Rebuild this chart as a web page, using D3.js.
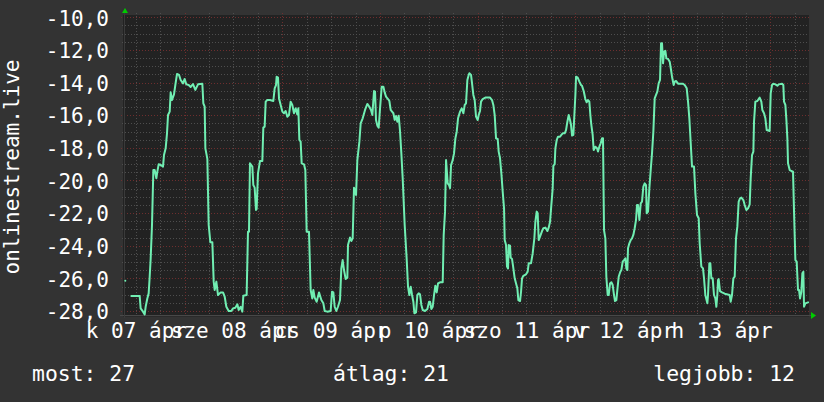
<!DOCTYPE html>
<html><head><meta charset="utf-8">
<script src="https://cdn.jsdelivr.net/npm/d3@7"></script>
<style>
html,body{margin:0;padding:0;background:#333333;}
svg{display:block;}
text{font-family:"DejaVu Sans Mono",monospace;fill:#ffffff;}
</style>
</head><body>
<svg id="chart" width="824" height="402"></svg>
<script>
// ---- data ----
const startTime = new Date(2020, 3, 7, 8, 50);
const spanHours = 168.67;
const yTickValues = [-28, -26, -24, -22, -20, -18, -16, -14, -12, -10];
const yTickLabels = ["-28,0", "-26,0", "-24,0", "-22,0", "-20,0", "-18,0", "-16,0", "-14,0", "-12,0", "-10,0"];
const dayLabels = ["k 07 ápr", "sze 08 ápr", "cs 09 ápr", "p 10 ápr", "szo 11 ápr", "v 12 ápr", "h 13 ápr"];
const dayLabelDates = ["2020-04-07", "2020-04-08", "2020-04-09", "2020-04-10", "2020-04-11", "2020-04-12", "2020-04-13"];
const axisTitle = "onlinestream.live";
const legendLabels = ["most: 27", "átlag: 21", "legjobb: 12"];
// hours since startTime
const hours = [0.57, 1.30, 2.05, 4.10, 4.34, 4.92, 5.33, 5.57, 5.98, 6.31, 6.56, 6.80, 7.13, 7.46, 7.79, 8.20, 8.44, 8.77, 9.26, 9.84, 10.08, 10.49, 10.82, 11.07, 11.48, 11.72, 12.05, 12.54, 12.87, 13.28, 13.77, 14.18, 14.75, 15.16, 15.57, 16.15, 16.64, 17.21, 17.79, 18.44, 19.51, 19.75, 20.08, 20.25, 20.74, 21.07, 21.48, 21.97, 22.30, 22.54, 22.95, 23.36, 24.02, 24.59, 25.00, 25.41, 25.98, 26.64, 27.05, 27.62, 28.12, 28.44,
28.93, 29.34, 29.59, 30.40, 30.73, 30.98, 31.22, 31.80, 32.04, 32.37, 32.70, 32.86, 33.19, 33.68, 34.26, 34.50, 34.83, 35.08, 35.49, 36.14, 36.96, 37.29, 37.62, 37.78, 38.11, 38.36, 38.77, 39.18, 39.59, 40.00, 40.40, 40.81, 41.22, 41.63, 42.04, 42.45, 42.86, 43.11, 43.36, 43.68, 43.93, 44.50, 44.83, 45.16, 45.73, 46.14, 46.55, 46.80, 47.13, 47.62, 48.19, 48.77, 49.26, 49.59, 50.24, 51.06, 51.39, 51.72, 52.04, 52.45, 52.86, 53.36, 53.68, 54.01, 54.34, 54.75, 55.16, 55.32, 55.82, 56.14, 56.47, 56.80,
57.30, 57.62, 58.12, 58.44, 58.93, 59.51, 60.08, 60.57, 60.98, 61.31, 61.72, 61.97, 62.21, 62.54, 62.87, 63.20, 63.61, 64.02, 64.34, 64.67, 65.16, 65.49, 65.82, 66.15, 66.48, 66.80, 67.13, 67.46, 67.79, 68.11, 68.44, 68.77, 69.26, 69.75, 70.08, 70.41, 70.74, 71.07, 71.39, 71.64, 72.05, 72.38, 72.71, 73.03, 73.36, 73.69, 74.26, 74.84, 75.25, 75.49, 75.82, 76.15, 76.48, 76.80, 77.13, 77.46, 77.95, 78.61, 78.85, 79.18, 79.43, 79.84, 80.16, 80.41, 80.66, 81.07, 81.39, 81.72, 82.05, 82.38, 82.87, 83.28, 83.69, 84.02, 84.34, 84.67, 85.00, 85.16,
85.57, 85.82, 86.14, 86.47, 86.80, 87.21, 87.46, 87.78, 88.03, 88.44, 89.09, 90.24, 90.73, 91.06, 91.39, 91.72, 92.13, 92.37, 92.70, 93.03, 93.36, 93.69, 93.85, 94.18, 94.42, 94.67, 94.83, 95.16, 95.32, 95.65, 95.98, 96.31, 96.64, 96.96, 97.21, 97.62, 97.87, 98.11, 98.44, 99.09, 99.50, 99.75, 100.32, 100.73, 101.14, 101.39, 101.72, 101.96, 102.21, 102.54, 103.03, 103.36, 103.85, 104.34, 104.67, 105.00, 105.32, 105.65, 105.82, 106.14, 106.31, 106.64, 106.96, 107.45, 107.78, 108.11, 108.60, 108.93, 109.26, 109.59, 109.91, 110.16, 110.41, 110.73, 110.98, 111.23, 111.39, 111.80, 112.21, 112.62, 112.86,
113.27, 113.68, 114.01, 114.34, 114.66, 114.91, 115.15, 115.48, 115.73, 116.14, 116.55, 116.79, 117.12, 117.45, 117.78, 118.02, 118.27, 118.60, 118.84, 119.17, 119.42, 119.75, 120.07, 120.40, 120.73, 120.97, 121.30, 121.55, 121.88, 122.29, 122.53, 122.86, 123.19, 123.52, 123.76, 124.01, 124.17, 124.50, 124.83, 125.15, 125.48, 125.81, 126.14, 126.38, 126.63, 126.96, 127.29, 127.61, 127.94, 128.27, 128.60, 128.76, 129.09, 129.42, 129.75, 130.07, 130.40, 130.73, 131.06, 131.38, 131.71, 132.04, 132.29, 132.53, 132.78, 133.02, 133.35, 133.60, 134.01, 134.42, 134.75, 134.99, 135.40, 135.65, 135.97, 136.47, 137.61, 138.11, 138.60, 138.93, 139.25, 139.50, 139.91, 140.40, 140.73, 141.14, 141.55,
141.79, 142.20, 142.61, 142.86, 143.18, 143.68, 143.84, 144.17, 144.41, 144.66, 144.99, 145.31, 145.64, 145.89, 146.13, 146.30, 146.46, 146.79, 147.28, 147.94, 149.17, 149.41, 149.74, 150.07, 150.40, 150.72, 151.05, 151.38, 151.71, 152.04, 152.53, 152.86, 153.27, 153.68, 154.09, 154.33, 154.66, 154.99, 155.15, 155.48, 155.97, 156.54, 156.95, 157.20, 157.61, 157.94, 158.27, 159.00, 159.25, 159.58, 159.90, 160.40, 160.89, 161.22, 162.04, 162.36, 162.53, 162.86, 163.11, 163.35, 163.51, 163.92, 164.33, 164.74, 164.99, 165.32, 165.64, 165.97, 166.22, 166.46, 166.79, 167.04, 167.28, 167.45, 167.78, 168.43];
const values = [-26.14, null, -27.08, -27.08, -27.84, -28.04, -28.21, -27.74, -27.23, -26.92, -25.90, -24.81, -22.73, -19.36, -19.36, -19.87, -19.46, -19.01, -19.05, -19.15, -18.44, -18.03, -17.11, -15.99, -15.78, -14.60, -15.07, -14.72, -14.15, -13.47, -13.53, -13.84, -14.05, -13.78, -14.11, -14.15, -14.27, -14.09, -14.45, -14.11, -14.07, -15.27, -15.48, -18.03, -18.68, -22.73, -23.79, -23.79, -26.20, -26.71, -26.20, -27.02, -26.86, -26.86, -27.12, -27.74, -28.00, -28.00, -27.84, -27.80, -27.59, -27.94,
-27.74, -28.04, -27.06, -27.02, -23.14, -23.14, -18.95, -19.15, -20.28, -20.44, -21.81, -21.75, -19.56, -18.81, -18.81, -16.76, -16.70, -15.17, -15.07, -15.07, -15.13, -14.35, -14.15, -13.64, -13.70, -14.97, -15.37, -15.78, -15.88, -15.74, -16.09, -15.99, -15.17, -15.37, -15.88, -15.58, -15.95, -15.58, -17.52, -17.62, -18.95, -19.01, -19.36, -23.14, -23.14, -26.71, -27.23, -26.71, -27.18, -27.43, -26.86, -27.33, -27.53, -28.00, -28.04, -28.00, -26.82, -26.86, -27.74, -28.00, -27.74, -27.33, -25.39, -24.88, -25.49, -26.04, -25.96, -23.96, -23.50, -23.71, -23.55, -20.44,
-20.89, -18.75, -17.62, -16.50, -16.19, -15.68, -15.31, -15.48, -15.68, -15.99, -14.52, -14.56, -16.29, -16.64, -16.76, -15.58, -14.25, -14.25, -14.60, -14.86, -15.01, -15.13, -15.68, -15.78, -15.88, -16.29, -16.05, -16.40, -16.03, -16.97, -18.34, -19.87, -22.73, -24.81, -26.51, -27.02, -26.51, -27.02, -27.43, -28.14, -28.08, -27.02, -26.92, -26.98, -27.63, -27.94, -28.00, -27.88, -27.43, -27.43, -27.88, -27.74, -27.02, -26.45, -26.86, -26.31, -26.24, -26.24, -23.34, -21.91, -18.75, -20.18, -20.28, -20.48, -19.05, -18.75, -18.34, -17.42, -17.01, -16.19, -15.78, -15.58, -15.88, -15.37, -15.27, -13.84, -13.53, -13.43,
-13.53, -14.05, -14.76, -15.07, -16.09, -16.29, -15.99, -15.74, -15.17, -15.01, -14.92, -14.92, -15.07, -15.37, -15.99, -17.42, -17.46, -18.23, -18.64, -19.56, -20.69, -21.71, -23.65, -23.96, -25.28, -25.39, -23.96, -24.00, -24.73, -24.81, -25.39, -26.00, -26.31, -26.61, -27.33, -27.39, -26.82, -26.00, -25.84, -25.75, -25.59, -25.08, -25.08, -24.47, -23.55, -22.53, -21.91, -22.01, -23.65, -23.44, -23.10, -22.93, -22.89, -23.10, -22.89, -22.53, -21.50, -20.48, -19.09, -19.01, -18.03, -17.52, -17.32, -17.32, -17.21, -17.11, -17.11, -16.91, -16.40, -15.99, -16.29, -16.60, -17.25, -17.21, -15.99, -14.76, -13.64, -13.70, -13.94, -14.15, -14.20,
-14.52, -15.01, -15.21, -15.07, -15.17, -15.99, -16.60, -17.21, -18.13, -17.93, -18.03, -18.23, -17.93, -17.72, -17.42, -17.42, -23.04, -23.55, -25.90, -27.02, -27.02, -26.31, -26.24, -26.41, -27.02, -27.39, -27.33, -26.71, -25.90, -25.59, -25.49, -24.98, -24.88, -24.77, -25.39, -25.49, -24.16, -23.85, -23.65, -23.55, -23.34, -22.93, -22.42, -21.50, -21.50, -22.42, -21.40, -21.30, -20.38, -20.18, -20.28, -22.01, -21.91, -20.48, -19.36, -18.34, -17.01, -14.97, -14.76, -14.56, -14.05, -13.84, -11.59, -11.59, -12.82, -12.10, -12.06, -12.51, -12.55, -12.72, -13.23, -13.64, -14.15, -13.94, -13.90, -14.07, -14.07, -14.15, -14.35, -15.17, -16.19, -17.32, -19.15, -19.15, -20.79, -22.12, -22.32,
-23.85, -25.28, -25.39, -26.00, -27.02, -27.53, -27.02, -25.08, -25.08, -26.00, -26.00, -27.02, -27.23, -27.74, -27.02, -26.10, -26.04, -26.78, -26.86, -26.94, -27.02, -27.43, -27.02, -26.00, -25.90, -23.55, -22.83, -21.30, -21.10, -21.05, -21.20, -21.50, -21.81, -21.71, -21.46, -19.87, -18.44, -18.23, -16.40, -15.17, -15.13, -14.92, -15.17, -15.68, -15.88, -16.19, -16.91, -16.97, -14.66, -14.15, -14.07, -14.11, -14.19, -14.11, -14.07, -14.15, -15.17, -15.37, -16.29, -17.42, -18.95, -19.36, -19.42, -19.46, -21.91, -24.88, -24.98, -26.71, -26.71, -27.23, -26.82, -25.69, -25.59, -27.74, -27.53, -27.47];

// ---- layout ----
const plot = {left: 123, right: 809, top: 15, bottom: 316.5};
const yTop = 17.3, yBottom = 311;
const svg = d3.select("#chart");
const endTime = new Date(startTime.getTime() + spanHours * 3600e3);
const x = d3.scaleTime().domain([startTime, endTime]).range([plot.left, plot.right]);
const y = d3.scaleLinear().domain([-28, -10]).range([yBottom, yTop]);
const toDate = h => new Date(startTime.getTime() + h * 3600e3);

svg.append("rect").attr("width", 824).attr("height", 402).attr("fill", "#333333");
svg.append("rect").attr("x", plot.left).attr("y", plot.top)
  .attr("width", plot.right - plot.left).attr("height", plot.bottom - plot.top)
  .attr("fill", "#222222");

// grid
const minorColor = "#4e4e4e", majorColor = "#6e2e2e";
const g = svg.append("g");
const minorH = d3.range(-28, -9.99, 0.5).filter(v => Math.abs(v % 2) > 0.01);
const majorH = yTickValues;
g.selectAll(".mh").data(minorH).join("line")
  .attr("x1", plot.left - 1).attr("x2", plot.right)
  .attr("y1", d => Math.round(y(d)) + 0.5).attr("y2", d => Math.round(y(d)) + 0.5)
  .attr("stroke", minorColor).attr("stroke-dasharray", "1,2");
const minorV = d3.timeHour.every(6).range(startTime, endTime).filter(d => d.getHours() !== 0);
const majorV = d3.timeDay.range(startTime, endTime);
g.selectAll(".mv").data(minorV).join("line")
  .attr("x1", d => Math.round(x(d)) + 0.5).attr("x2", d => Math.round(x(d)) + 0.5)
  .attr("y1", plot.top - 2).attr("y2", plot.bottom - 1)
  .attr("stroke", minorColor).attr("stroke-dasharray", "1,2");
g.selectAll(".Mh").data(majorH).join("line")
  .attr("x1", plot.left - 2).attr("x2", plot.right)
  .attr("y1", d => Math.round(y(d)) + 0.5).attr("y2", d => Math.round(y(d)) + 0.5)
  .attr("stroke", majorColor).attr("stroke-dasharray", "1,2");
g.selectAll(".Mv").data(majorV).join("line")
  .attr("x1", d => Math.round(x(d)) + 0.5).attr("x2", d => Math.round(x(d)) + 0.5)
  .attr("y1", plot.top - 2).attr("y2", plot.bottom - 1)
  .attr("stroke", majorColor).attr("stroke-dasharray", "1,2");

// axes lines
svg.append("line").attr("x1", plot.left - 3).attr("x2", 811).attr("y1", 315.5).attr("y2", 315.5)
  .attr("stroke", "#484848").attr("stroke-width", 1);
svg.append("line").attr("x1", 124.5).attr("x2", 124.5).attr("y1", 318).attr("y2", 12)
  .attr("stroke", "#3a3a3a").attr("stroke-width", 1);
// arrows
svg.append("path").attr("d", "M122,13 L125,8 L128,13 Z").attr("fill", "#00cc00");
svg.append("path").attr("d", "M811,312 L816,315.5 L811,319 Z").attr("fill", "#00cc00");

// line
const pts = hours.map((h, i) => ({t: toDate(h), v: values[i]}));
const line = d3.line().defined(d => d.v !== null).x(d => x(d.t)).y(d => y(d.v));
svg.append("path").datum(pts).attr("d", line)
  .attr("fill", "none").attr("stroke", "#70eeb2").attr("stroke-width", 2)
  .attr("stroke-linejoin", "round").attr("stroke-linecap", "round");

// y labels
const yAxis = d3.axisLeft(y).tickValues(yTickValues)
  .tickFormat((d, i) => yTickLabels[i]).tickSize(0).tickPadding(0);
const ya = svg.append("g").attr("transform", "translate(109,0)").call(yAxis);
ya.select(".domain").remove();
ya.selectAll("text").attr("font-size", 21).attr("fill", "#fff").attr("dy", "0.37em")
  .attr("font-family", "DejaVu Sans Mono");

// x labels (centered at noon of each day)
const labelTimes = dayLabelDates.map(s => new Date(s + "T12:00:00"));
const xAxis = d3.axisBottom(x).tickValues(labelTimes)
  .tickFormat((d, i) => dayLabels[i]).tickSize(0).tickPadding(0);
const xa = svg.append("g").attr("transform", "translate(0,338)").call(xAxis);
xa.select(".domain").remove();
xa.selectAll("text").attr("font-size", 21).attr("fill", "#fff").attr("y", 0).attr("dy", 0)
  .attr("font-family", "DejaVu Sans Mono");

// axis title
svg.append("text").attr("transform", "translate(18.5,167) rotate(-90)")
  .attr("text-anchor", "middle").attr("font-size", 21).text(axisTitle);

// legend
const legendX = [32, 333, 795];
const legendAnchor = ["start", "start", "end"];
svg.selectAll(".leg").data(legendLabels).join("text")
  .attr("x", (d, i) => legendX[i]).attr("y", 381)
  .attr("text-anchor", (d, i) => legendAnchor[i]).attr("font-size", 21.4).text(d => d);
</script>
</body></html>
